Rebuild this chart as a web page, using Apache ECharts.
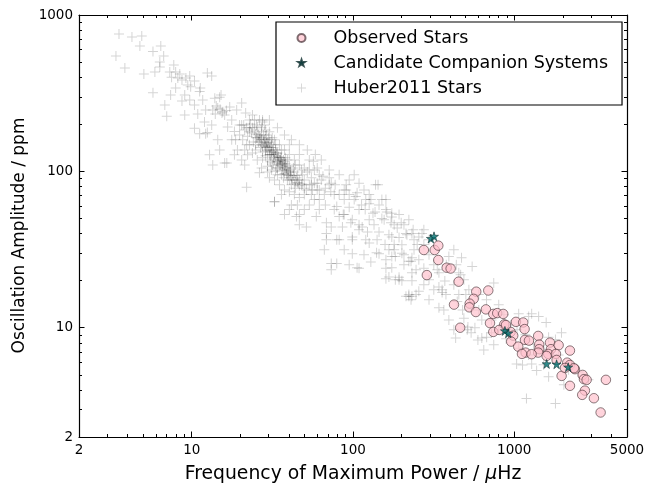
<!DOCTYPE html>
<html>
<head>
<meta charset="utf-8">
<script src="https://cdn.jsdelivr.net/npm/echarts@6/dist/echarts.min.js"></script>
<style>
html,body{margin:0;padding:0;background:#fff;}
#chart{width:660px;height:484px;}
</style>
</head>
<body>
<div id="chart"></div>
<script>
// ---------- DATA ----------
var xTickLabels = [2, 10, 100, 1000, 5000];
var yTickLabels = [2, 10, 100, 1000];
var xMajorTicks = [10, 100, 1000];
var xMinorTicks = [3,4,5,6,7,8,9,20,30,40,50,60,70,80,90,200,300,400,500,600,700,800,900,2000,3000,4000];
var yMajorTicks = [10, 100];
var yMinorTicks = [3,4,5,6,7,8,9,20,30,40,50,60,70,80,90,200,300,400,500,600,700,800,900];

var seriesNames = ['Observed Stars', 'Candidate Companion Systems', 'Huber2011 Stars'];

// Observed stars: [numax (uHz), amplitude (ppm)]
var observedStars = [
[275,31.4],[321,31.4],[338,33.5],[338,27.1],[381,24.2],[403,23.9],[287,21.7],[452,19.7],
[581,17.0],[690,17.3],[560,15.3],[423,14.05],[529,14.26],[526,13.5],[578,12.6],[667,13.1],
[741,12.25],[784,12.4],[854,12.25],[462,10.0],[707,10.7],[741,9.4],[867,10.5],[1024,10.9],
[1136,10.8],[1159,9.8],[949,9.4],[985,8.9],[957,8.15],[1058,7.57],[1165,8.36],[1233,8.27],
[1407,8.86],[1428,7.8],[1428,7.29],[1407,6.93],[1176,6.93],[1281,6.77],[1116,6.8],[1664,8.03],
[1688,7.29],[1884,7.73],[1624,6.8],[1587,6.6],[1813,6.8],[1830,6.22],[2214,7.14],[2130,5.98],
[2214,5.78],[2377,5.43],[1966,4.92],[2653,4.99],[2704,4.69],[2810,4.64],[2214,4.25],[2742,3.96],
[2638,3.72],[3117,3.54],[3700,4.64],[3431,2.87],[807,9.68],[888,10.4],[2344,5.51],[2062,5.53]
];

// Candidate companion systems
var candidateStars = [
[304,37.2],[318,38.4],[875,9.54],[918,9.22],[1587,5.87],[1830,5.84],[2160,5.59]
];

// Huber et al. 2011 stars
var huberStars = [
// sparse upper-left part
[3.54,756],[4.26,723],[4.9,733],[4.77,633],[5.75,585],[6.43,633],[3.39,547],[6.7,547],[3.85,458],
[5.05,420],[5.91,432],[6.34,465],[7.74,479],[7.5,400],[8.2,396],[8.7,384],[9.2,396],[9.72,407],
[10.4,378],[8.43,420],[7.31,432],[12.5,426],[13.3,407],[5.75,318],[6.81,266],[7.0,225],[7.4,308],
[8.7,282],[9.85,347],[11.3,341],[11.2,324],[10.4,266],[9.05,229],[10.9,233],[12.0,207],[10.4,189],
[12.5,177],[13.9,294],[15.2,308],[14.5,254],[16.0,229],[16.7,192],[14.5,159],[13.3,198],[14.9,298],
[15.4,236],[20.4,274],[19.0,247],[19.8,198],[22.8,213],[27.5,213],[11.2,174],[12.9,127.5],[13.5,110],
[16.5,113],[21.3,110],[21.9,79],[23.8,131],[26.3,98],[32.6,64],[12.2,174],[14.9,137],[16.0,113],
[18.7,159],[20.4,198],[23.8,229],[27.5,207],[13.5,247],[9.45,357],[7.95,341],[6.34,500],[7.95,432],
[9.05,308],[9.72,286],[11.7,286],[12.2,247],[17.2,258],[17.7,213],[21.6,236],[18.4,180],
[17.7,159],[19.2,137],[21.3,137],[22.8,148],[22.2,127.5],[18.4,127.5],[20.4,118],
[14.2,262],[15.0,250],[15.6,241],[14.0,233],[16.4,245],
[30.3,213],[34,190],[37.6,171],[41.5,159],[46.5,148],[52.1,137],[58.4,128],[63.6,118],[46.5,128],
[53.6,118],[40.3,148],
// dense core
[22.8,190],[23.5,176],[24.5,184],[25.2,164],[24.1,154],[25.9,171],[22.2,168],[24.9,148],[26.3,159],
[27.1,179],[23.1,201],[25.5,192],[27.1,148],[28.3,159],[29.1,142],[27.5,133],[29.5,152],[30.3,137],
[28.7,126],[26.7,142],[29.9,164],[27.9,171],[31.2,148],[29.5,118],[27.5,122],[30.7,128],[28.7,135],
[31.2,133],[32.1,122],[33.1,137],[34.0,115],[31.6,110],[32.6,128],[34.5,124],[33.5,105],[30.7,115],
[35.0,118],[32.1,142],[33.1,100],[34.0,131],[31.2,102],[35.5,110],[36.5,102],[37.6,115],[36.0,95],
[38.7,105],[37.1,91],[39.7,99],[38.1,122],[39.2,88],[35.5,122],[40.3,108],[36.5,112],[37.6,97],
[40.9,95],[42.1,88],[43.3,99],[41.5,82],[44.6,91],[42.7,105],[45.8,84],[43.9,78],[40.9,102],
[45.2,94],[46.5,88],[47.9,82],[49.9,88],[51.4,76],[48.5,95],[53.6,82],[55.2,91],[52.1,99],
[49.9,71],[57.6,84],[56.0,76],
[21.3,184],[21.9,148],[20.7,159],[19.8,171],[24.9,137],[25.5,118],[27.1,105],[29.5,99],[28.7,184],
[31.6,164],[35.0,148],[37.6,137],[40.3,128],[43.3,118],[46.5,110],[49.9,105],[53.6,102],[57.6,102],
[61.8,95],[60.0,105],[26.3,213],[28.3,198],[30.3,179],[32.6,159],[36.0,137],[39.2,118],[43.9,110],
[47.9,102],[24.5,213],[30.3,91],[32.6,88],[35.0,82],[37.6,76],[40.3,74],[43.3,71],[46.5,68],
[34.0,95],[29.5,108],
[24.9,173],[25.5,164],[26.3,168],[27.1,159],[27.9,154],[28.7,161],[28.3,148],[29.1,152],[29.9,145],
[30.3,154],[29.5,137],[30.7,142],[31.6,137],[31.2,128],[32.1,133],[33.1,126],[33.5,131],[32.6,118],
[34.0,122],[34.5,115],[35.5,118],[35.0,110],[36.0,113],[36.5,107],[37.6,110],[37.1,102],[38.1,105],
[39.2,102],[38.7,96],[39.7,94],[40.9,99],[41.5,91],[42.7,94],[43.9,88],[43.3,83],[45.2,85],
[46.5,81],[48.5,83],[49.9,78],[27.5,146],[25.9,154],[26.7,164],[28.7,145],[30.3,128],[32.1,113],
[34.0,105],[36.0,122],[38.1,112],[40.3,88],[37.1,118],[33.1,148],[31.2,159],[29.1,171],[27.1,190],
[25.2,198],[23.8,190],[22.8,179],[21.9,190],[21.0,198],
// middle band
[56.8,116],[71.2,102],[65.1,93],[109,84],[138,82],[90.7,76],[120,66],[151,66],[160,57],[174,51],
[222,49],[213,40],[99,36.5],[126,34.8],[145,29.7],[174,28.5],[193,37.7],[232,40],[32.6,64],[40.3,57],
[44.6,51.5],[51.4,44],[59.2,51.5],[68.4,40],[73.3,44],[82.1,51.5],[79.3,36.5],[99,29.7],[106,24.2],
[79.3,25.7],[73.3,23.5],[160,27.2],[183,20.3],[232,20],[174,24.2],[222,15.9],[167,21.1],[71.2,82],
[90.7,82],[143,82],[104,69],[126,62],[160,66],[79.3,59.5],[68.4,47],[86,44],[99,49],[114,44],
[133,54],[174,54],[68.4,36.5],[82.1,36.5],[99,38.1],[120,36.5],[140,30.2],[174,38.1],[201,33.9],
[256,38.1],[167,31.5],[183,28.5],[232,28],[73.3,25.7],[109,24],[94.7,25.3],[160,24],[193,21],
[160,20.6],[201,20],[232,22.5],[246,23.5],[341,22.5],[357,17.5],[377,16.3],[222,16.3],[246,16.3],
[73.3,84],[61.8,76],[57.6,66],[66.4,71],[53.6,61],[49.9,57],[46.5,53],[55.2,71],[76.5,71],[88.2,66],
[94.7,59],[109,57],[82.1,95],[94.7,88],[117,76],[101.7,95],[126,71],[145,61],[156,49],[135,45.5],
[180,45.5],[193,53],[207,45.5],[239,36.5],[275,34],[296,29.3],[256,27.2],[275,24],[317,25.3],
[296,20.3],[88.2,53],[61.8,57],[45.2,61],[36,71],[41.5,61],[46.5,45.5],[37.6,53],[66.4,31.5],
[88.2,31.5],[117,29.3],[129,26.3],[145,41],[167,39.3],[109,42.3],[126,49],[180,34],[207,25.3],
[239,31.5],[275,42.3],[296,36.5],
[55.2,82],[60,76],[63.6,88],[67.4,78],[72.8,74],[77.5,82],[82.1,71],[88.2,76],[94.7,71],[101.7,66],
[106,73],[113,61],[119,57],[129,66],[137,55],[151,50],[162,55],[172,47],[188,43.5],[199,47],
[216,39.3],[236,42.3],[250,34],[67.4,61],[76.5,57],[87,53],[97,47],[109,45.5],[123,41],[141,36.5],
[158,34],[180,31.5],[207,29.3],[229,26.6],[61.8,66],[71.2,91],[60,84],
// lower-right part
[268,40],[201,29.9],[222,26.6],[393,28.5],[471,28],[548,24.6],[453,22.5],[371,19.9],[213,15.9],
[232,15.9],[341,18.2],[341,13.4],[443,14.7],[501,16.3],[746,19.3],[603,13.0],[393,11.2],[570,10.0],
[511,9.7],[723,11.2],[801,9.7],[629,11.2],[674,8.7],[723,9.3],[1065,12.3],[1228,11.8],[1282,12.3],
[1416,11.8],[1577,10.8],[1633,8.7],[1962,9.3],[1800,8.4],[647,7.2],[1034,5.87],[1125,5.77],
[1282,5.87],[1376,5.32],[1190,3.52],[1800,3.27],[1633,4.86],[890,8.5],
[422,18.8],[487,20.3],[523,17.5],[603,16.3],[673,15.1],[801,14.0],[862,12.1],[951,10.4],[1040,9.7],
[1170,9.0],[1315,7.8],[1520,7.2],[1883,6.7],[2171,5.38],[2503,5.2],[2886,4.64],[2030,4.31],
[1520,5.79],[1228,6.7],[1065,7.4],[746,7.77],[595,8.36],[487,11.5],[422,9.7],[366,13.0],[453,16.3],
[296,15.1],[317,17.5],[275,18.8],[256,17.1],[333,23.5],[379,25.3],[437,25.3],[422,31.5],
[193,20.3],[229,15.1],[357,16.8],[478,13.0],[433,8.6],[540,9.3],[629,8.6],[516,10.1],[465,21.8]
];

// ---------- CHART ----------
var FONT = '"DejaVu Sans", sans-serif';
var chart = echarts.init(document.getElementById('chart'), null, {renderer: 'canvas'});
var plusPath = 'path://M4.5,0H5.5V4.5H10V5.5H5.5V10H4.5V5.5H0V4.5H4.5Z';
var starPath = 'path://M50,0L61.8,35.1L98.9,35.1L68.9,56.9L80.3,91.9L50,70.2L19.7,91.9L31.1,56.9L1.1,35.1L38.2,35.1Z';
// same star with empty margin so that the legend icon is drawn smaller
var starLegendPath = 'path://M-18,-18M118,118M50,0L61.8,35.1L98.9,35.1L68.9,56.9L80.3,91.9L50,70.2L19.7,91.9L31.1,56.9L1.1,35.1L38.2,35.1Z';
var circleLegendPath = 'path://M-6,-6M106,106M50,0A50,50,0,1,1,49.99,0Z';

function fmt(v) { return String(v); }

function xAxisDef(position, major, withLine, withLabels) {
  return {
    type: 'log', logBase: 10, min: 2, max: 5000, position: position, gridIndex: 0,
    axisLine: {show: withLine, onZero: false, lineStyle: {color: '#000', width: 1.2}},
    axisTick: {show: true, inside: true, length: major ? 5.5 : 3, customValues: major ? xMajorTicks : xMinorTicks,
               lineStyle: {color: '#000', width: 1}},
    axisLabel: withLabels ? {show: true, customValues: xTickLabels, formatter: fmt, color: '#000',
               fontSize: 13.5, fontFamily: FONT, margin: 6} : {show: false},
    splitLine: {show: false},
    name: withLabels ? '{a|Frequency of Maximum Power / }{i|\u03bc}{a|Hz}' : '',
    nameLocation: 'middle', nameGap: 28,
    nameTextStyle: {rich: {a: {fontSize: 18.8, fontFamily: FONT, color: '#000'},
                           i: {fontSize: 18.8, fontFamily: FONT, fontStyle: 'italic', color: '#000'}}}
  };
}
function yAxisDef(position, major, withLine, withLabels) {
  return {
    type: 'log', logBase: 10, min: 2, max: 1000, position: position, gridIndex: 0,
    axisLine: {show: withLine, onZero: false, lineStyle: {color: '#000', width: 1.2}},
    axisTick: {show: true, inside: true, length: major ? 5.5 : 3, customValues: major ? yMajorTicks : yMinorTicks,
               lineStyle: {color: '#000', width: 1}},
    axisLabel: withLabels ? {show: true, customValues: yTickLabels, formatter: fmt, color: '#000',
               fontSize: 13.5, fontFamily: FONT, margin: 6} : {show: false},
    splitLine: {show: false},
    name: withLabels ? 'Oscillation Amplitude / ppm' : '',
    nameLocation: 'middle', nameGap: 50,
    nameTextStyle: {fontSize: 17, fontFamily: FONT, color: '#000', padding: [0, 19, 0, 0]}
  };
}

var option = {
  animation: false,
  backgroundColor: '#fff',
  grid: {left: 79, right: 33, top: 15, bottom: 47, containLabel: false, outerBoundsMode: 'none'},
  xAxis: [
    xAxisDef('bottom', true, true, true),
    xAxisDef('bottom', false, false, false),
    xAxisDef('top', true, true, false),
    xAxisDef('top', false, false, false)
  ],
  yAxis: [
    yAxisDef('left', true, true, true),
    yAxisDef('left', false, false, false),
    yAxisDef('right', true, true, false),
    yAxisDef('right', false, false, false)
  ],
  legend: {
    orient: 'vertical', left: 276, top: 22,
    padding: [6, 14, 7, 20],
    itemWidth: 9, itemHeight: 9, itemGap: 5,
    borderColor: '#000', borderWidth: 1.2, backgroundColor: '#fff',
    data: [
      {name: seriesNames[0], icon: circleLegendPath},
      {name: seriesNames[1], icon: starLegendPath},
      {name: seriesNames[2]}
    ],
    selectedMode: false,
    textStyle: {fontSize: 17.5, fontFamily: FONT, color: '#000', lineHeight: 20, padding: [0, 0, 0, 22.5]}
  },
  series: [
    {
      name: seriesNames[2], type: 'scatter', xAxisIndex: 0, yAxisIndex: 0,
      data: huberStars, symbol: plusPath, symbolSize: 10, z: 1,
      itemStyle: {color: 'rgba(0,0,0,0.21)'},
      emphasis: {disabled: true}
    },
    {
      name: seriesNames[0], type: 'scatter', xAxisIndex: 0, yAxisIndex: 0,
      data: observedStars, symbol: 'circle', symbolSize: 9.5, z: 2,
      itemStyle: {color: 'rgba(255,192,203,0.85)', borderColor: 'rgba(40,20,25,0.75)', borderWidth: 0.9},
      emphasis: {disabled: true}
    },
    {
      name: seriesNames[1], type: 'scatter', xAxisIndex: 0, yAxisIndex: 0,
      data: candidateStars, symbol: starPath, symbolSize: 9, z: 3,
      itemStyle: {color: '#007272', borderColor: '#0b2a2a', borderWidth: 0.7},
      emphasis: {disabled: true}
    }
  ]
};
chart.setOption(option);
</script>
</body>
</html>
